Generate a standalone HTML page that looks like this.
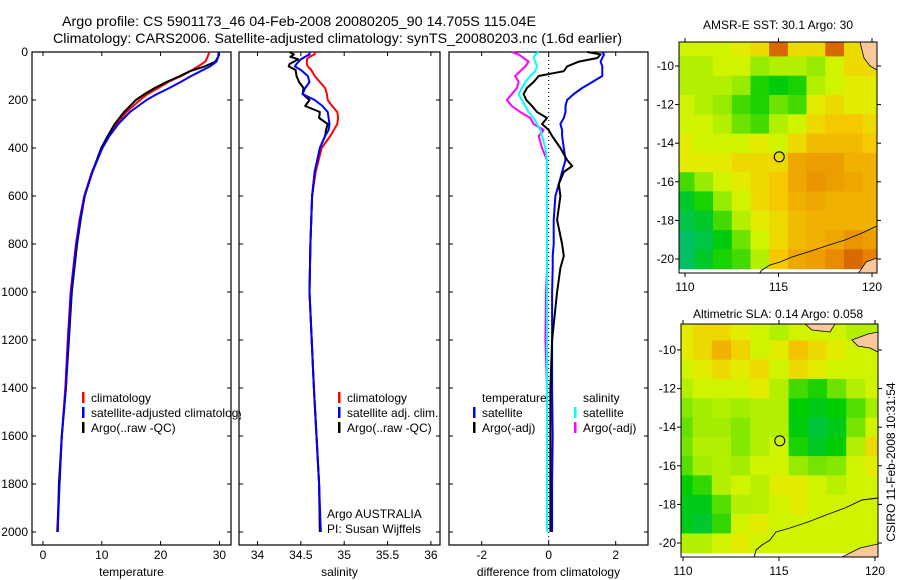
<!DOCTYPE html>
<html><head><meta charset="utf-8">
<style>
html,body{margin:0;padding:0;background:#fff;}
svg{display:block;font-family:"Liberation Sans",sans-serif;}
text{fill:#000;}
</style></head>
<body>
<svg id="fig" width="900" height="580" viewBox="0 0 900 580" xmlns="http://www.w3.org/2000/svg">
<defs><clipPath id="leg1clip"><rect x="32" y="380" width="209" height="60"/></clipPath></defs>
<text x="62" y="26" font-size="14" textLength="474" lengthAdjust="spacingAndGlyphs">Argo profile: CS 5901173_46 04-Feb-2008 20080205_90 14.705S 115.04E</text>
<text x="53" y="43" font-size="14" textLength="569" lengthAdjust="spacingAndGlyphs">Climatology: CARS2006. Satellite-adjusted climatology: synTS_20080203.nc (1.6d earlier)</text>
<text x="778" y="29" font-size="12" text-anchor="middle">AMSR-E SST: 30.1 Argo: 30</text>
<text x="778" y="318" font-size="12" text-anchor="middle">Altimetric SLA: 0.14 Argo: 0.058</text>
<text transform="translate(895,462) rotate(-90)" font-size="12" text-anchor="middle">CSIRO 11-Feb-2008 10:31:54</text>
<g id="plots"></g>
</svg>
<script>
// ---- profile data ----
var tDepth=[0,20,40,60,80,100,125,150,175,200,250,300,350,400,500,600,700,800,1000,1200,1400,1600,1800,2000];
var tArgo=[29.9,29.8,29.3,27.5,25.0,23.3,21.0,19.0,17.3,15.8,13.8,12.2,11.0,9.9,8.4,7.1,6.4,5.8,4.9,4.4,3.9,3.2,2.7,2.5];
var tClim=[28.3,28.0,27.6,26.4,25.0,23.5,21.3,19.6,17.8,16.5,14.2,12.5,11.2,10.1,8.3,7.0,6.2,5.6,4.7,4.2,3.8,3.2,2.8,2.4];
var tSat=[29.9,29.8,29.5,28.4,26.8,25.2,23.4,21.5,19.4,17.6,14.8,12.8,11.3,10.1,8.4,7.1,6.3,5.7,4.8,4.3,3.9,3.2,2.8,2.5];
var sDepth=[0,10,20,30,50,60,75,100,125,150,175,200,225,250,275,300,325,350,400,500,600,800,1000,1400,1600,1800,2000];
var sArgo=[34.37,34.42,34.38,34.47,34.37,34.36,34.44,34.45,34.48,34.53,34.52,34.6,34.55,34.72,34.71,34.81,34.79,34.78,34.72,34.66,34.63,34.61,34.6,34.65,34.68,34.71,34.72];
var sSat=[34.6,34.6,34.55,34.5,34.45,34.43,34.5,34.58,34.6,34.55,34.52,34.66,34.75,34.81,34.82,34.83,34.82,34.78,34.72,34.66,34.63,34.61,34.6,34.65,34.68,34.71,34.73];
var sClim=[34.66,34.66,34.6,34.57,34.57,34.58,34.62,34.66,34.72,34.78,34.8,34.81,34.86,34.92,34.93,34.92,34.88,34.84,34.74,34.67,34.63,34.61,34.6,34.65,34.68,34.71,34.72];
var dDepth=[0,10,25,40,60,80,100,125,150,175,200,225,250,275,300,325,350,400,450,475,500,550,600,700,800,850,900,1000,1200,1400,1600,1800,2000];
var dTSat=[1.6,1.65,1.6,1.55,1.6,1.6,1.6,1.3,1.0,0.75,0.55,0.5,0.5,0.45,0.35,0.4,0.4,0.45,0.5,0.45,0.4,0.3,0.2,0.15,0.15,0.12,0.12,0.1,0.1,0.1,0.12,0.1,0.1];
var dTArgo=[1.15,1.55,1.45,0.9,0.55,0.45,-0.3,-0.45,-0.65,-0.75,-0.67,-0.5,-0.35,-0.05,-0.2,0,0.1,0.35,0.55,0.7,0.45,0.3,0.35,0.25,0.4,0.45,0.35,0.25,0.1,0.05,0.05,0.05,0.05];
var dSSat=[-0.3,-0.4,-0.45,-0.4,-0.35,-0.4,-0.55,-0.7,-0.8,-0.9,-0.8,-0.7,-0.6,-0.45,-0.35,-0.25,-0.2,-0.1,-0.05,-0.05,-0.05,-0.05,-0.05,-0.05,-0.05,-0.05,-0.05,-0.05,-0.05,-0.05,-0.05,-0.05,-0.05];
var dSArgo=[-1.1,-0.9,-0.75,-0.6,-0.7,-0.85,-1.0,-0.9,-0.95,-1.1,-1.25,-1.1,-0.85,-0.55,-0.45,-0.15,-0.3,-0.2,-0.05,-0.05,-0.05,-0.05,-0.05,-0.05,-0.05,-0.05,-0.05,-0.08,-0.1,-0.05,-0.05,-0.05,-0.05];
var depthTicks=[0,200,400,600,800,1000,1200,1400,1600,1800,2000];
var tTicks=[0,10,20,30];
var sTicks=[34,34.5,35,35.5,36];
var dTicks=[-2,0,2];
// ---- map data (rows lat -9..-20, cols lon 110..120) ----
var sstGrid=[
[.5,.5,.5,.55,.6,.85,.6,.6,.85,.6,.55],
[.45,.45,.5,.5,.4,.45,.45,.4,.5,.6,.6],
[.45,.45,.45,.4,.25,.2,.25,.45,.5,.55,.55],
[.5,.45,.4,.3,.25,.35,.3,.55,.6,.55,.55],
[.5,.5,.45,.35,.3,.45,.5,.6,.65,.65,.6],
[.55,.5,.5,.5,.55,.5,.6,.68,.68,.68,.65],
[.55,.55,.55,.6,.6,.6,.72,.74,.74,.7,.7],
[.3,.4,.5,.55,.6,.65,.72,.76,.74,.72,.7],
[.15,.25,.4,.5,.6,.65,.7,.72,.7,.7,.7],
[.1,.15,.3,.45,.55,.6,.68,.7,.7,.7,.7],
[.05,.1,.2,.35,.5,.6,.68,.7,.72,.76,.74],
[.05,.15,.25,.3,.45,.65,.72,.74,.78,.85,.8]];
var slaGrid=[
[.55,.6,.6,.55,.5,.45,.5,.5,.5,.45,.45],
[.55,.6,.7,.62,.5,.55,.66,.6,.55,.5,.5],
[.5,.55,.6,.55,.6,.5,.6,.55,.5,.5,.5],
[.45,.5,.5,.5,.55,.45,.3,.25,.35,.45,.5],
[.38,.42,.45,.42,.45,.45,.22,.18,.22,.32,.42],
[.34,.42,.42,.38,.45,.45,.2,.12,.18,.36,.5],
[.36,.45,.45,.38,.45,.5,.25,.16,.22,.45,.6],
[.32,.42,.45,.42,.5,.5,.4,.36,.38,.5,.55],
[.22,.28,.45,.5,.46,.55,.55,.5,.46,.5,.5],
[.18,.18,.32,.45,.46,.5,.55,.5,.5,.5,.5],
[.18,.14,.28,.5,.55,.5,.5,.5,.5,.5,.5],
[.45,.45,.5,.55,.5,.5,.5,.5,.5,.5,.5]];
var lonTicks=[110,115,120];
var latTicks=[-10,-12,-14,-16,-18,-20];
var argoLon=115.04, argoLat=-14.705;

var NS='http://www.w3.org/2000/svg';
var root=document.getElementById('plots');
function mk(tag,attrs,parent){var e=document.createElementNS(NS,tag);for(var k in attrs)e.setAttribute(k,attrs[k]);(parent||root).appendChild(e);return e;}
function txt(x,y,s,anchor,size,parent){var t=mk('text',{x:x,y:y,'font-size':size||12,'text-anchor':anchor||'start'},parent);t.textContent=s;return t;}

var TOP=52,BOT=545;
function yD(d){return 52+d*0.24;}

function panel(name,x0,x1,fx,xt,xlab,showY){
  var g=mk('g',{});
  
  
  var r=mk('rect',{x:x0,y:TOP,width:x1-x0,height:BOT-TOP,fill:'none',stroke:'#000','stroke-width':1.2},g);
  
  
  depthTicks.forEach(function(d){
    var y=yD(d);
    mk('line',{x1:x0,y1:y,x2:x0+4,y2:y,stroke:'#000'},g);
    mk('line',{x1:x1,y1:y,x2:x1-4,y2:y,stroke:'#000'},g);
    if(showY){var t=txt(x0-4,y+4,String(d),'end',12,g);
      
      }
  });
  xt.forEach(function(v){
    var x=fx(v);
    mk('line',{x1:x,y1:BOT,x2:x,y2:BOT-4,stroke:'#000'},g);
    mk('line',{x1:x,y1:TOP,x2:x,y2:TOP+4,stroke:'#000'},g);
    var t=txt(x,559,String(v),'middle',12,g);
    
    
  });
  var t=txt((x0+x1)/2,576,xlab,'middle',12,g);
  
  
  return g;
}
function line(g,depths,vals,fx,color,nm,x0,x1){
  var pts=depths.map(function(d,i){return Math.max(x0,Math.min(x1,fx(vals[i]))).toFixed(1)+','+yD(d).toFixed(1);}).join(' ');
  var p=mk('polyline',{points:pts,fill:'none',stroke:color,'stroke-width':2,'stroke-linejoin':'round'},g);
  
  
}
function legend(g,x,y,color,label,nm){
  if(color){var b=mk('rect',{x:x,y:y-10,width:2.5,height:11,fill:color},g);
    
    }
  var t=txt(x+9,y,label,'start',12,g);
  
  
  return t;
}

// Temperature panel
var fT=function(v){return 43+v*5.88;};
var g1=panel('temperature-panel',32,231,fT,tTicks,'temperature',true);
line(g1,tDepth,tClim,fT,'#ff0000','temp-climatology-line',32,231);
line(g1,tDepth,tArgo,fT,'#000000','temp-argo-line',32,231);
line(g1,tDepth,tSat,fT,'#0000ff','temp-satellite-line',32,231);
legend(g1,82,402,'#ff0000','climatology','legend-climatology');
var lt=legend(g1,82,417,'#0000ff','satellite-adjusted climatology','legend-satellite-adjusted');
lt.setAttribute('clip-path','url(#leg1clip)');
legend(g1,82,432,'#000000','Argo(..raw -QC)','legend-argo-raw');

// Salinity panel
var fS=function(v){return 257.5+(v-34)*86.7;};
var g2=panel('salinity-panel',239,440,fS,sTicks,'salinity',false);
line(g2,sDepth,sClim,fS,'#ff0000','sal-climatology-line',239,440);
line(g2,sDepth,sArgo,fS,'#000000','sal-argo-line',239,440);
line(g2,sDepth,sSat,fS,'#0000ff','sal-satellite-line',239,440);
legend(g2,338,402,'#ff0000','climatology','legend-sal-climatology');
legend(g2,338,417,'#0000ff','satellite adj. clim.','legend-sal-satellite');
legend(g2,338,432,'#000000','Argo(..raw -QC)','legend-sal-argo');
var a1=txt(327,518,'Argo AUSTRALIA','start',12,g2);


var a2=txt(327,533,'PI: Susan Wijffels','start',12,g2);



// Difference panel
var fDf=function(v){return 548.7+v*33.5;};
var g3=panel('difference-panel',449,648,fDf,dTicks,'difference from climatology',false);
var z=mk('line',{x1:fDf(0),y1:TOP,x2:fDf(0),y2:BOT,stroke:'#000','stroke-dasharray':'1,3'},g3);


line(g3,dDepth,dTSat,fDf,'#0000ff','diff-temp-satellite-line',449,648);
line(g3,dDepth,dTArgo,fDf,'#000000','diff-temp-argo-line',449,648);
line(g3,dDepth,dSArgo,fDf,'#ff00ff','diff-sal-argo-line',449,648);
line(g3,dDepth,dSSat,fDf,'#00ffff','diff-sal-satellite-line',449,648);
legend(g3,473,402,null,'temperature','legend-temperature-heading');
legend(g3,473,417,'#0000ff','satellite','legend-diff-temp-satellite');
legend(g3,473,432,'#000000','Argo(-adj)','legend-diff-temp-argo');
legend(g3,574,402,null,'salinity','legend-salinity-heading');
legend(g3,574,417,'#00ffff','satellite','legend-diff-sal-satellite');
legend(g3,574,432,'#ff00ff','Argo(-adj)','legend-diff-sal-argo');

// ---- maps ----
var stops=[[0,[0,190,130]],[0.22,[0,205,0]],[0.4,[150,235,0]],[0.52,[220,245,0]],[0.65,[245,200,0]],[0.8,[230,130,0]],[0.9,[200,80,0]],[1,[160,0,0]]];
function cmap(v){
  for(var i=1;i<stops.length;i++){if(v<=stops[i][0]){var a=stops[i-1],b=stops[i],t=(v-a[0])/(b[0]-a[0]);
    return 'rgb('+[0,1,2].map(function(k){return Math.round(a[1][k]+(b[1][k]-a[1][k])*t);}).join(',')+')';}}
  return 'rgb(160,0,0)';
}
function map(name,x0,x1,y0,y1,lonX,latY,grid,coast,land){
  var g=mk('g',{});
  
  
  var cid=name+'-clip';
  var cp=mk('clipPath',{id:cid},g);mk('rect',{x:x0,y:y0,width:x1-x0,height:y1-y0},cp);
  var cg=mk('g',{'clip-path':'url(#'+cid+')'},g);
  mk('rect',{x:x0,y:y0,width:x1-x0,height:y1-y0,fill:'#fff'},cg);
  grid.forEach(function(row,ri){
    row.forEach(function(v,ci){
      var lon=110+ci, lat=-9-ri;
      var xa=lonX(lon-0.5), xb=lonX(lon+0.5), ya=latY(lat+0.5), yb=latY(lat-0.5);
      var c=mk('rect',{x:xa.toFixed(1),y:ya.toFixed(1),width:(xb-xa+0.6).toFixed(1),height:(yb-ya+0.6).toFixed(1),fill:cmap(v)},cg);
      
      
    });
  });
  land.forEach(function(p){var l=mk('polygon',{points:p,fill:'#f9c89a',stroke:'#000','stroke-width':0.8},cg);
    
    });
  var cl=mk('polyline',{points:coast,fill:'none',stroke:'#000','stroke-width':0.9},cg);
  
  
  var mx=lonX(argoLon),my=latY(argoLat);
  var m=mk('circle',{cx:mx,cy:my,r:5,fill:'none',stroke:'#000','stroke-width':1.1},g);
  
  
  mk('rect',{x:x0,y:y0,width:x1-x0,height:y1-y0,fill:'none',stroke:'#000','stroke-width':1},g);
  lonTicks.forEach(function(v){var x=lonX(v);
    mk('line',{x1:x,y1:y1,x2:x,y2:y1+4,stroke:'#000'},g);
    mk('line',{x1:x,y1:y0,x2:x,y2:y0-4,stroke:'#000'},g);
    var t=txt(x,y1+18,String(v),'middle',12,g);
    
    });
  latTicks.forEach(function(v){var y=latY(v);
    mk('line',{x1:x0,y1:y,x2:x0-4,y2:y,stroke:'#000'},g);
    mk('line',{x1:x1,y1:y,x2:x1+4,y2:y,stroke:'#000'},g);
    var t=txt(x0-5,y+4,String(v),'end',12,g);
    
    });
}
var sstLon=function(v){return 685+(v-110)*18.7;}, sstLat=function(v){return 66+(-10-v)*19.3;};
map('sst-map',679,877,42,273,sstLon,sstLat,sstGrid,
 '877,226 862,233 845,240 826,246 808,252 792,257 780,262 770,265 762,270 758,275',
 ['860,42 877,42 877,70 870,66 864,58','858,274 866,262 877,258 877,280']);
var slaLon=function(v){return 683+(v-110)*19.2;}, slaLat=function(v){return 350+(-10-v)*19.3;};
map('sla-map',681,878,324,557,slaLon,slaLat,slaGrid,
 '878,498 862,500 845,508 826,515 808,522 790,528 776,532 770,540 762,545 756,550 754,558',
 ['805,324 835,324 830,332 812,330','852,340 868,334 878,332 878,352 870,348 858,346','840,558 860,548 878,544 878,560']);
</script>
</body></html>
